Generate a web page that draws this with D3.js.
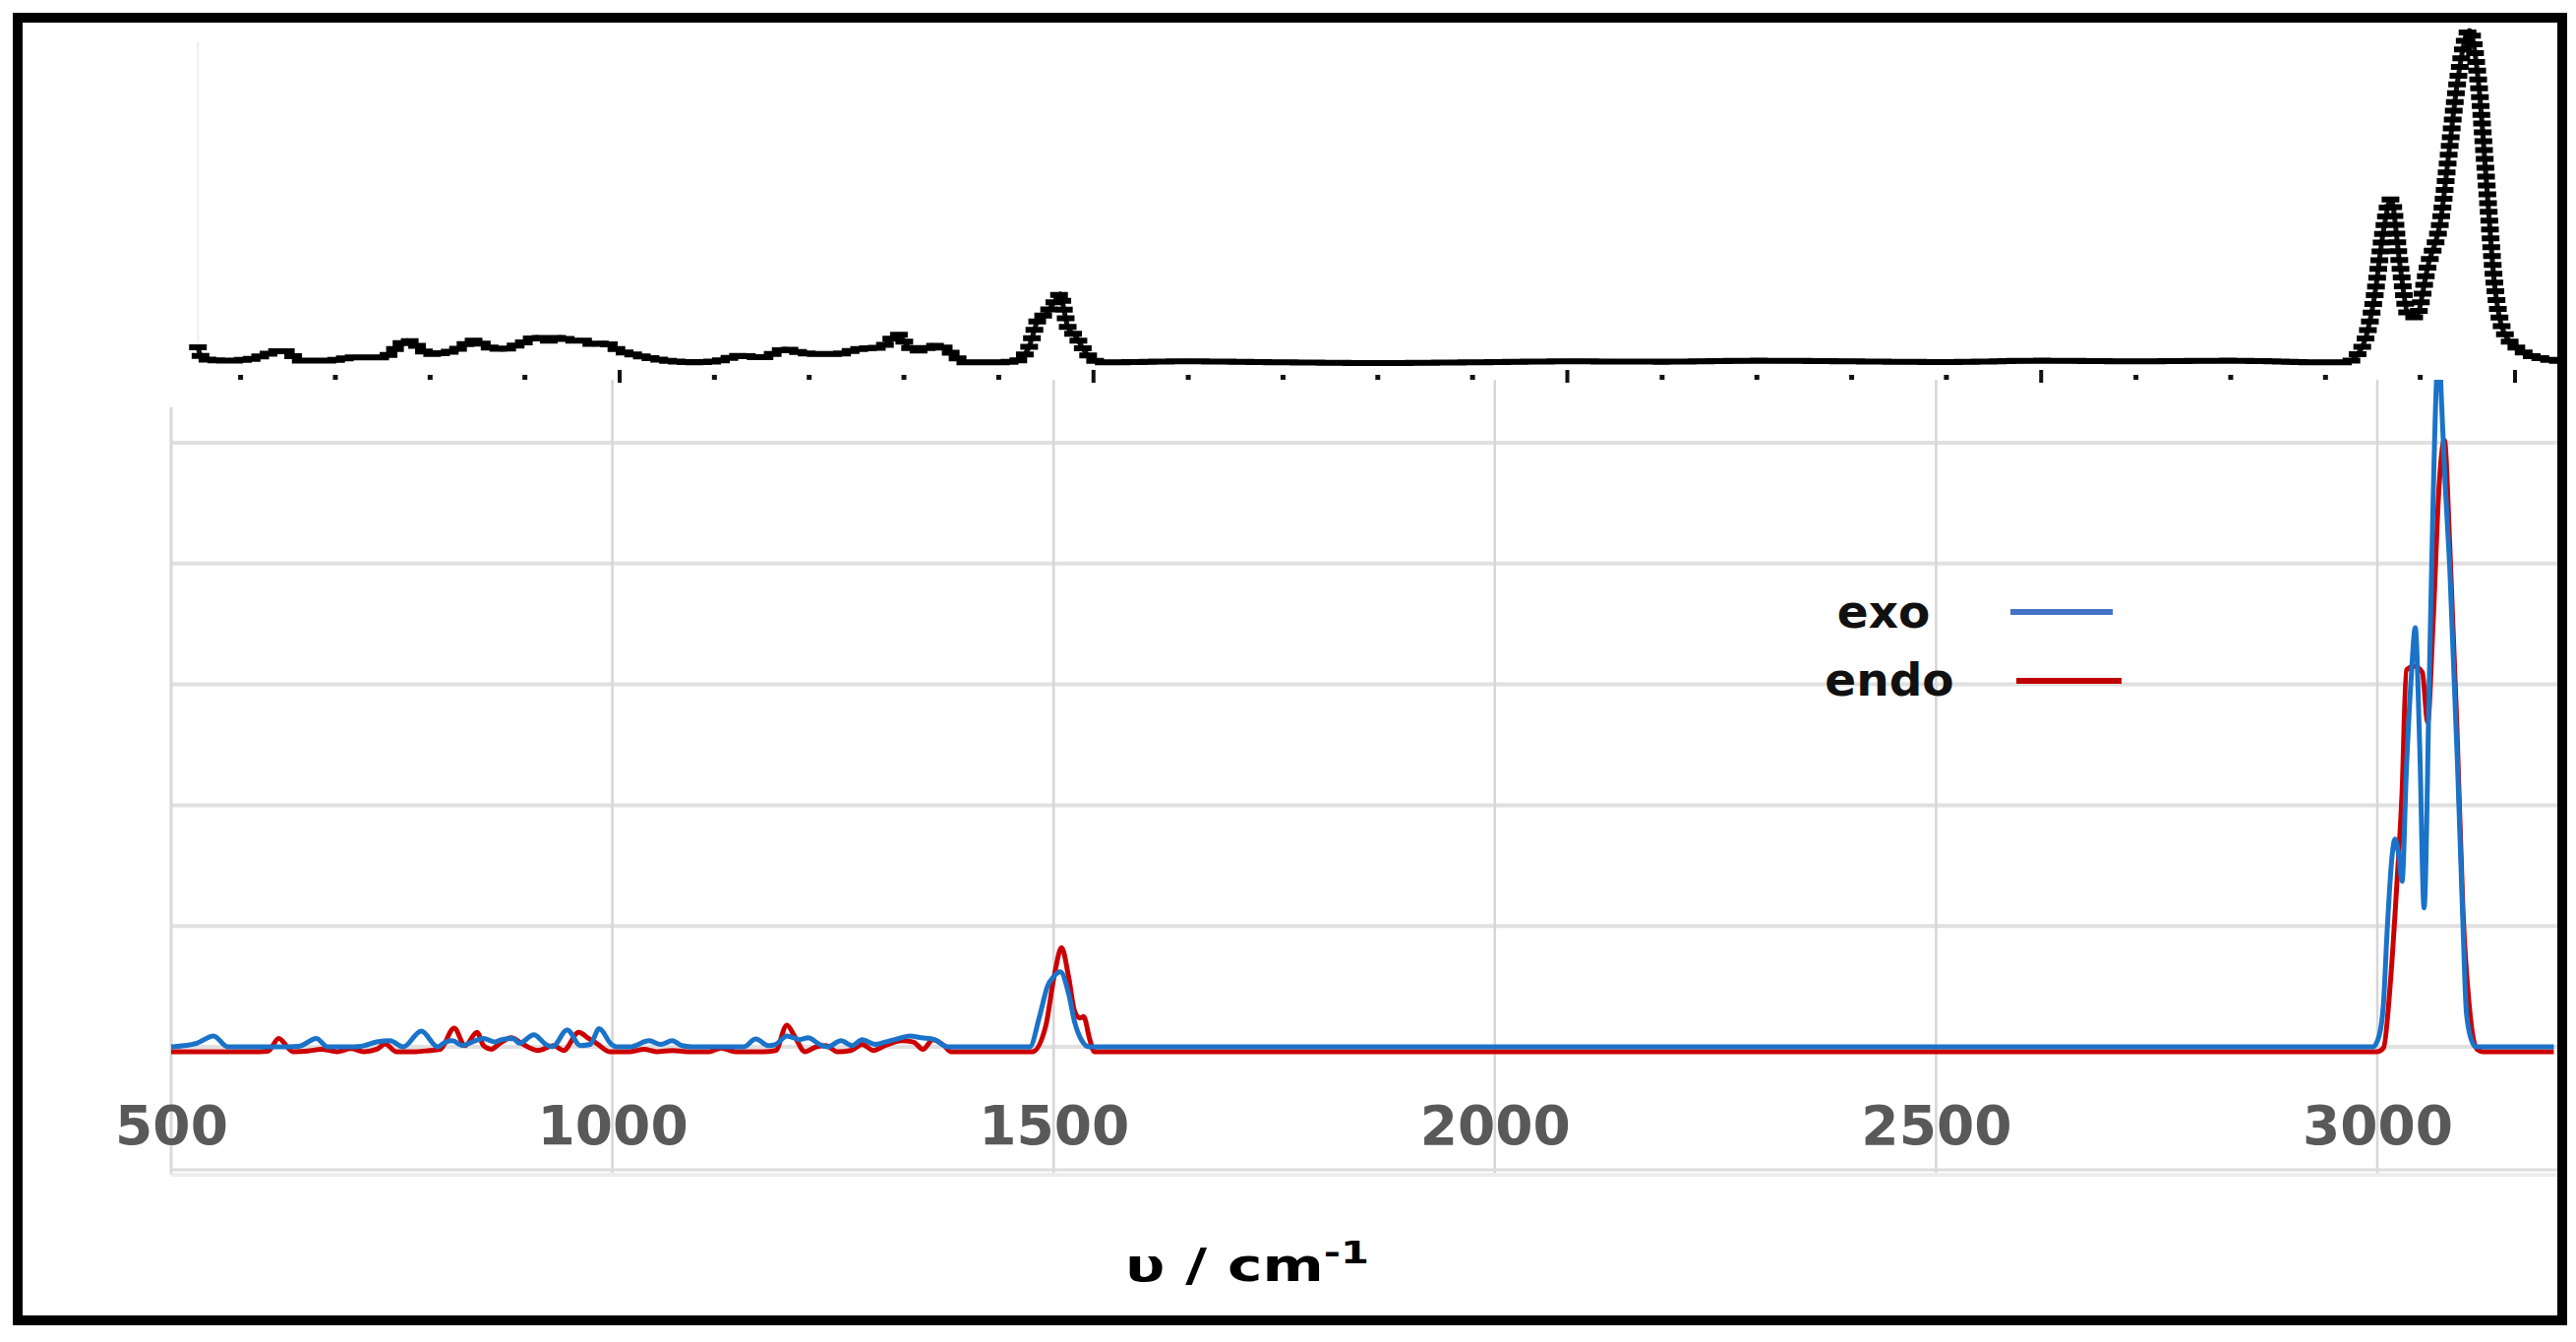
<!DOCTYPE html>
<html><head><meta charset="utf-8">
<script src="https://cdn.jsdelivr.net/npm/d3@7"></script>
<style>html,body{margin:0;padding:0;background:#fff;} svg{display:block;}</style>
</head><body>
<svg id="chart" width="2619" height="1364"></svg>
<script>
// ---------- DATA ----------
// Calculated IR spectrum of the exo isomer: [wavenumber (cm-1), intensity]
const exoSpectrum = [
  [500,0],[515,0.01],[529,0.03],[548,0.09],[564,0],[580,0],[620,0],[645,0.005],[664.6,0.07],[677,0],[700,0],[715,0.005],
  [733,0.04],[748,0.05],[763,0],[783.5,0.13],[802,0],[811,0.04],[819,0.05],[830,0.01],[838,0.03],[854,0.07],
  [867,0.04],[874.5,0.06],[887.5,0.07],[894.5,0.03],[911,0.1],[924.6,0.02],[932,0],[948.8,0.14],[963.7,0.01],
  [974.8,0.02],[985,0.15],[999,0.02],[1004.5,0],[1020,0],[1041.7,0.05],[1054.7,0.02],[1067.7,0.05],[1078.8,0.01],
  [1090,0],[1149,0],[1162.4,0.065],[1177.2,0.01],[1185,0.02],[1197.7,0.09],[1212.5,0.06],[1221.8,0.075],
  [1234.8,0.02],[1244,0],[1259,0.05],[1272,0.01],[1283,0.06],[1298,0.02],[1309,0.04],[1325,0.07],[1337,0.09],
  [1350,0.075],[1365,0.06],[1380,0],[1473,0],[1484,0.25],[1493,0.5],[1500,0.58],[1507.6,0.62],[1517,0.44],
  [1524,0.2],[1532,0.05],[1540,0],[2995,0],[3002,0.09],[3007,0.36],[3011,0.94],[3017,1.6],[3020,1.72],
  [3024,1.6],[3028,1.37],[3033,2.3],[3038.6,3.08],[3043,3.47],[3048,2.5],[3053,1.15],[3059,3.08],[3063,4.45],
  [3067,5.5],[3070,5.75],[3073,5.3],[3077,4.64],[3082,3.98],[3091,2.31],[3097,1.02],[3101,0.28],[3107,0.05],
  [3112,0],[3200,0]
];
// Calculated IR spectrum of the endo isomer
const endoSpectrum = [
  [500,-0.04],[600,-0.04],[610,-0.035],[621.8,0.07],[638,-0.04],[655,-0.035],[670,-0.02],[688,-0.04],
  [703.6,-0.015],[718.5,-0.04],[733,-0.02],[742.6,0.025],[755,-0.04],[777.5,-0.04],[792.8,-0.03],[805,-0.02],
  [820.7,0.155],[833,0.01],[846.6,0.12],[854,0.01],[863,-0.02],[870.8,0.02],[885.6,0.075],[896.8,0.03],
  [915.4,-0.03],[933.6,0.01],[944.7,-0.03],[961.8,0.12],[973,0.07],[982,0.03],[997,-0.04],[1020,-0.04],
  [1036,-0.02],[1050,-0.04],[1068,-0.03],[1085,-0.04],[1110,-0.04],[1123,-0.01],[1140,-0.04],[1170,-0.04],
  [1185,-0.03],[1197.7,0.18],[1207,0.08],[1218,-0.04],[1231,0],[1242,0.01],[1255,-0.04],[1270,-0.03],
  [1283,0.02],[1296,-0.03],[1309,0.01],[1328,0.05],[1341,0.04],[1352,-0.02],[1363,0.06],[1376,0.01],
  [1383.5,-0.04],[1476,-0.04],[1491,0.17],[1500.5,0.58],[1509,0.82],[1517,0.58],[1524,0.29],[1530,0.24],
  [1534,0.25],[1541,0.06],[1546,-0.04],[3000,-0.04],[3007,-0.01],[3015,0.55],[3022,1.33],[3028,2.1],
  [3033,3.12],[3042,3.15],[3051,3.1],[3057,2.69],[3063,3.47],[3070,4.64],[3076,5.02],[3082,4.17],[3090,2.69],
  [3097,1.14],[3105,0.28],[3113,-0.02],[3120,-0.04],[3200,-0.04]
];
// Experimental spectrum (upper panel): [wavenumber, relative absorbance %]
const experimentalSpectrum = [
  [555,5],[560,1.5],[585,1],[610,1.5],[645,4],[665,1],[690,1],[722,2],[750,2],[776,7],[800,3],[825,4],
  [847,7],[862,5],[876.5,4.5],[895,6],[913,8],[925,7],[937,8],[950,7],[960.6,7],[972,6],[984,6.2],[1000,4],
  [1020,2.5],[1050,1],[1080,0.5],[1105,1],[1127,2.5],[1150,2],[1175,4.4],[1190,3.5],[1204.5,3],[1230,3],
  [1252,4.5],[1275,5],[1294,8.8],[1305,5],[1317.6,4],[1330,5.5],[1341.5,5],[1355,2],[1365,0.5],[1400,0.5],
  [1419,1],[1431,4.5],[1443,14],[1450,15],[1454.6,17],[1460,19],[1465,21],[1469,16],[1473,11],[1481.6,8.2],
  [1488,5],[1495,2.4],[1508.5,0.5],[1600,0.8],[1700,0.5],[1800,0.3],[1900,0.5],[2000,0.8],[2100,0.7],
  [2200,1],[2300,0.8],[2400,0.6],[2500,1],[2600,0.8],[2700,1],[2800,0.5],[2821.5,0.5],[2839,5.3],
  [2851.6,20],[2861,39.6],[2869,49.4],[2878.6,29.7],[2887,15],[2895,14],[2908.6,30],[2922,44],[2930.5,64],
  [2939,84],[2952,100],[2961.6,84],[2970,54],[2978,25],[2987.6,10],[3004,4.4],[3031,1.5],[3057,0.8]
];
const xTickValues = [500, 1000, 1500, 2000, 2500, 3000];
const yGridValues = [0, 1, 2, 3, 4, 5];
const exptTickValues = d3.range(600, 3001, 100);
const seriesNames = ["exo", "endo"];
const seriesColors = ["#1a73c8", "#cc0000"];
const legendColors = ["#4472c4", "#c00000"];
const axisTitle = "υ / cm";
const axisTitleSup = "-1";

// ---------- LAYOUT ----------
const W = 2619, H = 1364;
const svg = d3.select("#chart");
svg.append("rect").attr("width", W).attr("height", H).attr("fill", "#fff");

const x = d3.scaleLinear().domain([500, 3000]).range([174, 2417]);
const y = d3.scaleLinear().domain([0, 5]).range([1064, 450]);
const plotTop = 386, plotBottom = 1194, plotRight = 2600;

const defs = svg.append("defs");
defs.append("clipPath").attr("id", "clipPlot").append("rect")
  .attr("x", 170).attr("y", plotTop).attr("width", plotRight - 170).attr("height", plotBottom - plotTop);
defs.append("clipPath").attr("id", "clipTop").append("rect")
  .attr("x", 190).attr("y", 15).attr("width", plotRight - 190).attr("height", 370);

// horizontal gridlines
svg.append("g").selectAll("line").data(yGridValues).join("line")
  .attr("x1", x(500)).attr("x2", plotRight)
  .attr("y1", d => y(d)).attr("y2", d => y(d))
  .attr("stroke", "#e0e0e0").attr("stroke-width", 4);
// vertical gridlines
svg.append("g").selectAll("line").data(xTickValues.slice(1)).join("line")
  .attr("x1", d => x(d)).attr("x2", d => x(d))
  .attr("y1", plotTop).attr("y2", plotBottom)
  .attr("stroke", "#d6d6d6").attr("stroke-width", 2.5);
// left axis line
svg.append("line").attr("x1", x(500)).attr("x2", x(500)).attr("y1", 414).attr("y2", plotBottom)
  .attr("stroke", "#d9d9d9").attr("stroke-width", 3);
// bottom frame line
svg.append("line").attr("x1", x(500)).attr("x2", plotRight).attr("y1", 1189).attr("y2", 1189)
  .attr("stroke", "#dcdcdc").attr("stroke-width", 3);
svg.append("line").attr("x1", x(500)).attr("x2", plotRight).attr("y1", 1194).attr("y2", 1194)
  .attr("stroke", "#ececec").attr("stroke-width", 4);

// series
const line = d3.line().x(d => x(d[0])).y(d => y(d[1])).curve(d3.curveMonotoneX);
const gPlot = svg.append("g").attr("clip-path", "url(#clipPlot)");
[endoSpectrum, exoSpectrum].forEach((s, i) => {
  const idx = i === 0 ? 1 : 0;
  gPlot.append("path").datum(s).attr("d", line)
    .attr("fill", "none").attr("stroke", seriesColors[idx]).attr("stroke-width", 5)
    .attr("stroke-linejoin", "round");
});

// x axis labels
const xAxis = d3.axisBottom(x).tickValues(xTickValues).tickSize(0).tickFormat(d3.format("d"));
const gx = svg.append("g").attr("transform", "translate(0,1163)").call(xAxis);
gx.select(".domain").remove();
gx.selectAll("text").attr("y", 0).attr("dy", 0)
  .attr("font-family", "DejaVu Sans").attr("font-weight", "bold").attr("font-size", 55)
  .attr("fill", "#595959");

// axis title
const title = svg.append("text").attr("transform", "translate(1268,1302) scale(1.3,1)")
  .attr("text-anchor", "middle").attr("font-family", "DejaVu Sans").attr("font-weight", "bold")
  .attr("font-size", 46).attr("fill", "#000");
title.append("tspan").text(axisTitle);
title.append("tspan").attr("font-size", 32).attr("dy", -18).text(axisTitleSup);

// legend
const legendText = [{cx: 1915, by: 638}, {cx: 1921, by: 707}];
const legendLines = [{x1: 2044, x2: 2148, y: 622}, {x1: 2050, x2: 2157, y: 692}];
seriesNames.forEach((n, i) => {
  svg.append("text").attr("x", legendText[i].cx).attr("y", legendText[i].by)
    .attr("text-anchor", "middle").attr("font-family", "DejaVu Sans").attr("font-weight", "bold")
    .attr("font-size", 47).attr("fill", "#111").text(n);
  svg.append("line").attr("x1", legendLines[i].x1).attr("x2", legendLines[i].x2)
    .attr("y1", legendLines[i].y).attr("y2", legendLines[i].y)
    .attr("stroke", legendColors[i]).attr("stroke-width", 6);
});

// ---------- TOP PANEL: experimental spectrum ----------
const xt = d3.scaleLinear().domain([1000, 3000]).range([630, 2557]);
const yt = d3.scaleLinear().domain([0, 100]).range([370, 31]);
svg.append("line").attr("x1", xt(555)).attr("x2", xt(555)).attr("y1", 43).attr("y2", 367)
  .attr("stroke", "#eeeeee").attr("stroke-width", 2);
const gTop = svg.append("g").attr("clip-path", "url(#clipTop)");
const exptLine = d3.line().x(d => xt(d[0])).y(d => yt(d[1])).curve(d3.curveMonotoneX);
const ep = gTop.append("path").datum(experimentalSpectrum).attr("d", exptLine)
  .attr("fill", "none").attr("stroke", "#111").attr("stroke-width", 5);
const node = ep.node();
const Ltot = node.getTotalLength();
const mk = d3.range(0, Ltot, 9).map(l => node.getPointAtLength(l));
gTop.append("path")
  .attr("d", mk.map(p => `M${p.x - 9},${p.y}h18`).join(""))
  .attr("stroke", "#000").attr("stroke-width", 6).attr("fill", "none");
// ticks under the experimental spectrum
svg.append("g").selectAll("rect").data(exptTickValues).join("rect")
  .attr("x", d => xt(d) - (d % 500 === 0 ? 2 : 2.5))
  .attr("y", d => d % 500 === 0 ? 376 : 381)
  .attr("width", d => d % 500 === 0 ? 4 : 5)
  .attr("height", d => d % 500 === 0 ? 13 : 5)
  .attr("fill", "#111");

// frame
svg.append("rect").attr("x", 18).attr("y", 18).attr("width", 2587).attr("height", 1324)
  .attr("fill", "none").attr("stroke", "#000").attr("stroke-width", 10);
</script>
</body></html>
